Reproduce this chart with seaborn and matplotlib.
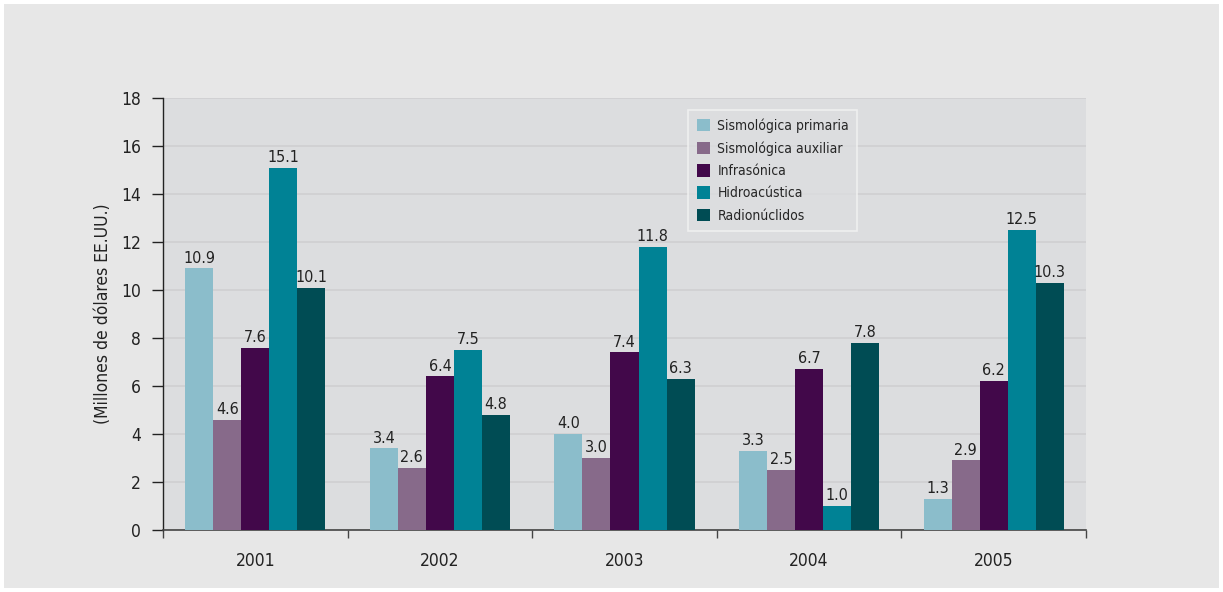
import matplotlib
matplotlib.use("Agg")
import matplotlib.pyplot as plt
import seaborn as sns
import pandas as pd
from matplotlib.patches import Rectangle
from matplotlib.ticker import FixedLocator

years = ["2001", "2002", "2003", "2004", "2005"]
series = ["Sismológica primaria", "Sismológica auxiliar", "Infrasónica", "Hidroacústica", "Radionúclidos"]
primaria = [10.9, 3.4, 4.0, 3.3, 1.3]
auxiliar = [4.6, 2.6, 3.0, 2.5, 2.9]
infrasonica = [7.6, 6.4, 7.4, 6.7, 6.2]
hidroacustica = [15.1, 7.5, 11.8, 1.0, 12.5]
radionuclidos = [10.1, 4.8, 6.3, 7.8, 10.3]
colors = ["#8bbdcb", "#876a8a", "#42084a", "#008295", "#004c54"]
ylabel = "(Millones de dólares EE.UU.)"

rows = []
for s, vals in zip(series, [primaria, auxiliar, infrasonica, hidroacustica, radionuclidos]):
    for y, v in zip(years, vals):
        rows.append({"Año": y, "Serie": s, "Valor": v})
df = pd.DataFrame(rows)

sns.set_theme(style="white")
plt.rcParams["font.family"] = ["DejaVu Sans"]
plt.rcParams["font.stretch"] = "condensed"

fig = plt.figure(figsize=(12.23, 5.92), dpi=100, facecolor="white")
fig.patches.append(Rectangle((4 / 1223, 4 / 592), 1 - 8 / 1223, 1 - 8 / 592,
                             transform=fig.transFigure, facecolor="#e7e7e7",
                             edgecolor="none", zorder=-10))
ax = fig.add_axes([163 / 1223, 62 / 592, (1086 - 163) / 1223, (530 - 98) / 592])
ax.set_facecolor("#dcdddf")

sns.barplot(data=df, x="Año", y="Valor", hue="Serie", hue_order=series,
            palette=colors, width=0.76, saturation=1, linewidth=0, ax=ax, zorder=3)

for c in ax.containers:
    ax.bar_label(c, fmt="%.1f", padding=2, fontsize=11.5, color="#222222")

ax.set_ylim(0, 18)
ax.set_xlim(-0.5, 4.5)
ax.set_yticks(range(0, 19, 2))
ax.yaxis.grid(True, color="#cfcfd1", linewidth=1.2, zorder=0)
ax.set_axisbelow(True)
ax.tick_params(axis="y", which="major", left=True, length=8, width=1, color="#222222",
               labelsize=12.5, labelcolor="#222222", pad=8)
ax.tick_params(axis="x", which="major", bottom=False, labelsize=12.5, labelcolor="#222222", pad=10)
ax.xaxis.set_minor_locator(FixedLocator([-0.5, 0.5, 1.5, 2.5, 3.5, 4.5]))
ax.tick_params(axis="x", which="minor", bottom=True, length=6, width=1, color="#444444")
for side in ["top", "right"]:
    ax.spines[side].set_visible(False)
ax.spines["left"].set_color("#222222")
ax.spines["bottom"].set_color("#444444")
ax.spines["left"].set_linewidth(1)
ax.spines["bottom"].set_linewidth(1.2)
ax.set_xlabel("")
ax.set_ylabel(ylabel, fontsize=12.5, color="#222222", labelpad=6)

leg = ax.legend(loc="upper left", bbox_to_anchor=(0.569, 0.972), borderaxespad=0,
                frameon=True, fontsize=10, handlelength=1.0, handleheight=1.0,
                handletextpad=0.5, labelspacing=0.6, borderpad=0.6, fancybox=False)
leg.get_frame().set_facecolor("#dcdddf")
leg.get_frame().set_edgecolor("#f4f4f4")
leg.get_frame().set_linewidth(1.2)

fig.savefig("out.png", dpi=100, facecolor="white")
